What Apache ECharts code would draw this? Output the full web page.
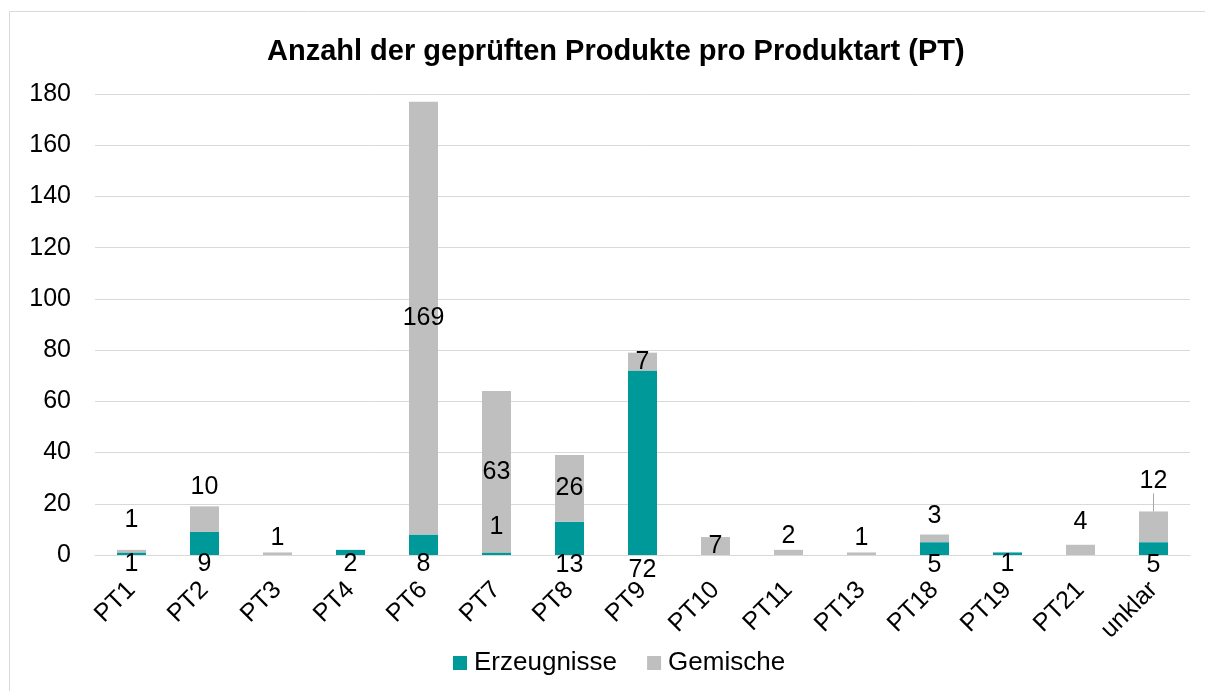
<!DOCTYPE html>
<html>
<head>
<meta charset="utf-8">
<script src="https://cdn.jsdelivr.net/npm/echarts@6/dist/echarts.min.js"></script>
<style>
	html, body { margin: 0; padding: 0; background: #fff; }
	#chart { width: 1205px; height: 691px; }
</style>
</head>
<body>
<div id="chart"></div>
<script>
// Daten
var categories = ['PT1', 'PT2', 'PT3', 'PT4', 'PT6', 'PT7', 'PT8', 'PT9', 'PT10', 'PT11', 'PT13', 'PT18', 'PT19', 'PT21', 'unklar'];
var erzeugnisse = [1, 9, 0, 2, 8, 1, 13, 72, 0, 0, 0, 5, 1, 0, 5];
var gemische = [1, 10, 1, 0, 169, 63, 26, 7, 7, 2, 1, 3, 0, 4, 12];
var yTicks = [0, 20, 40, 60, 80, 100, 120, 140, 160, 180];

// Beschriftungs-Position je Balken (wie im Excel-Diagramm verschoben)
var erzPos = [['bottom', -3], ['bottom', -3], null, ['bottom', -3], ['bottom', -3], ['top', 13], ['bottom', -2], ['bottom', 3], null, null, null, ['bottom', -2], ['bottom', -3], null, ['bottom', -2]];
var gemPos = [['top', 17], ['top', 7], ['top', 2], null, ['inside', 0], ['inside', 0], ['inside', 0], ['inside', 0], ['inside', 0], ['top', 1], ['top', 2], ['top', 6], null, ['top', 10], ['top', 4]];
// unklar: Beschriftung nach oben gezogen, mit Führungslinie
var leaderIndex = categories.indexOf('unklar');

function buildData(values, pos) {
	return values.map(function(v, i) {
		var p = pos[i];
		if (!p || v === 0) {
			return { value: v, label: { show: false } };
		}
		var item = { value: v, label: { show: true, position: p[0], distance: p[1] } };
		if (i === leaderIndex && p[0] === 'top') {
			item.labelLine = { show: true };
		}
		return item;
	});
}

var labelStyle = {
	fontFamily: 'Liberation Sans',
	fontSize: 25,
	color: '#000'
};

var chart = echarts.init(document.getElementById('chart'));
chart.setOption({
	animation: false,
	title: {
		text: 'Anzahl der geprüften Produkte pro Produktart (PT)',
		left: 262,
		top: 32,
		textStyle: {
			fontFamily: 'Liberation Sans',
			fontSize: 29,
			fontWeight: 'bold',
			color: '#000'
		}
	},
	legend: {
		bottom: 10,
		left: 448,
		itemWidth: 14,
		itemHeight: 14,
		itemGap: 30,
		icon: 'rect',
		textStyle: { fontFamily: 'Liberation Sans', fontSize: 26, color: '#000', padding: [0, 0, 0, 2] },
		data: ['Erzeugnisse', 'Gemische']
	},
	graphic: [{
		type: 'rect',
		shape: { x: 9.5, y: 11.5, width: 1220, height: 700 },
		style: { fill: 'none', stroke: '#d9d9d9', lineWidth: 1 },
		silent: true
	}],
	grid: {
		left: 95,
		right: 15,
		top: 94,
		bottom: 136
	},
	xAxis: {
		type: 'category',
		data: categories,
		axisLine: { lineStyle: { color: '#d9d9d9', width: 1 } },
		axisTick: { show: false },
		axisLabel: {
			rotate: 45,
			interval: 0,
			margin: 31,
			fontFamily: 'Liberation Sans',
			fontSize: 25,
			color: '#000'
		}
	},
	yAxis: {
		type: 'value',
		min: yTicks[0],
		max: yTicks[yTicks.length - 1],
		interval: 20,
		axisLine: { show: false },
		axisTick: { show: false },
		splitLine: { lineStyle: { color: '#d9d9d9', width: 1 } },
		axisLabel: {
			margin: 24,
			fontFamily: 'Liberation Sans',
			fontSize: 25,
			color: '#000'
		}
	},
	series: [
		{
			name: 'Erzeugnisse',
			type: 'bar',
			stack: 'pt',
			barWidth: 29,
			itemStyle: { color: '#009999' },
			label: labelStyle,
			labelLine: { show: false },
			data: buildData(erzeugnisse, erzPos)
		},
		{
			name: 'Gemische',
			type: 'bar',
			stack: 'pt',
			barWidth: 29,
			itemStyle: { color: '#bfbfbf' },
			label: labelStyle,
			labelLine: { show: false, lineStyle: { color: '#a6a6a6', width: 1 } },
			labelLayout: function(params) {
				if (params.dataIndex === leaderIndex) {
					return { dy: -14 };
				}
				return {};
			},
			data: buildData(gemische, gemPos)
		}
	]
});
</script>
</body>
</html>
